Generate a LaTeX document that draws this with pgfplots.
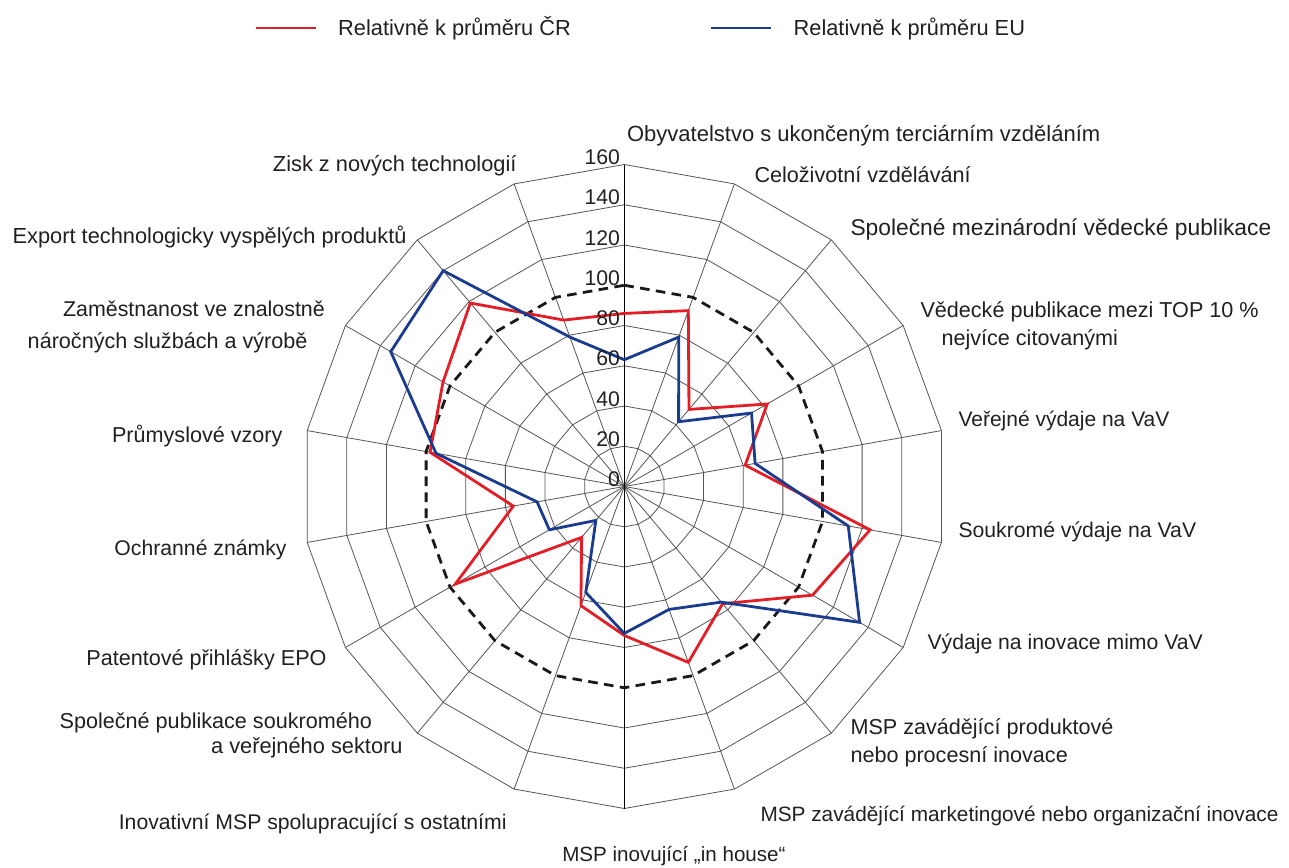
\documentclass[border=0pt]{standalone}
\usepackage{fontspec}
\setmainfont{Liberation Sans}
\usepackage{pgfplots}
\pgfplotsset{compat=1.18}
\usepackage{pgfplotstable}
\usepgfplotslibrary{polar}
\definecolor{crred}{HTML}{E41E26}
\definecolor{eublue}{HTML}{1B3C8E}
\definecolor{gridc}{HTML}{555555}
\definecolor{txt}{HTML}{231F20}

% angle (deg, counterclockwise from east), CR = relative to CZ average, EU = relative to EU average
\pgfplotstableread{
a     cr   eu
90    86   63
70    93   79
50    50   42
30    82   73
10    61   66
-10   124  113
-30   108  135
-50   76   75
-70   93   65
-90   74   73
-110  63   56
-130  33   22
-150  97   43
-170  56   44
-190  98   95
-210  104  134
-230  119  140
-250  88   79
-270  86   63
}\radardata

\newcommand{\fs}[1]{\fontsize{#1}{13}\selectfont}

\begin{document}
\begin{tikzpicture}[every node/.style={text=txt, font=\fs{10.8}, inner sep=0pt}]
\begin{polaraxis}[
  scale only axis, width=322pt, height=322pt,
  ymin=0, ymax=160,
  hide axis, clip=false,
  legend columns=2,
  legend image code/.code={\draw[#1] (0pt,0pt) -- (30pt,0pt);},
  legend style={draw=none, fill=none, inner sep=0pt,
    at={(axis description cs:0.524,1.212)}, anchor=center,
    nodes={inner sep=0pt, text=txt, font=\fs{10.9}},
    /tikz/every odd column/.append style={column sep=10.5pt},
    /tikz/every even column/.append style={column sep=69.5pt}},
]
% grid rings
\pgfplotsinvokeforeach{20,40,60,80,120,140,160}{
  \addplot[gridc, line width=0.4pt, forget plot] coordinates
    {(90,#1)(70,#1)(50,#1)(30,#1)(10,#1)(-10,#1)(-30,#1)(-50,#1)(-70,#1)(-90,#1)
     (-110,#1)(-130,#1)(-150,#1)(-170,#1)(-190,#1)(-210,#1)(-230,#1)(-250,#1)(-270,#1)};
}
% spokes
\pgfplotsinvokeforeach{70,50,30,10,-10,-30,-50,-70,-110,-130,-150,-170,-190,-210,-230,-250}{
  \addplot[gridc, line width=0.4pt, forget plot] coordinates {(#1,0)(#1,160)};
}
\addplot[black, line width=0.75pt, forget plot] coordinates {(90,160)(90,0)(-90,160)};
% 100 = average
\addplot[black!90, line width=1.4pt, dash pattern=on 4.8pt off 3.2pt, forget plot] coordinates
  {(90,100)(70,100)(50,100)(30,100)(10,100)(-10,100)(-30,100)(-50,100)(-70,100)(-90,100)
   (-110,100)(-130,100)(-150,100)(-170,100)(-190,100)(-210,100)(-230,100)(-250,100)(-270,100)};

\addplot[crred, line width=1.4pt, line join=miter] table[x=a, y=cr] {\radardata};
\addlegendentry{Relativně k průměru ČR}
\addplot[eublue, line width=1.4pt, line join=miter] table[x=a, y=eu] {\radardata};
\addlegendentry{Relativně k průměru EU}

\pgfplotsinvokeforeach{0,20,40,60,80,100,120,140,160}{
  \node[anchor=base east, xshift=-2pt, font=\fs{10.6}] at (axis cs:90,#1) {#1};
}
\coordinate (C) at (axis cs:0,0);
\end{polaraxis}

\node[anchor=base west, font=\fs{11}] at ([shift={(1.2pt,172.3pt)}]C) {Obyvatelstvo s ukončeným terciárním vzděláním};
\node[anchor=base west] at ([shift={(64.9pt,152.1pt)}]C) {Celoživotní vzdělávání};
\node[anchor=base west, font=\fs{11.4}] at ([shift={(112.9pt,125.3pt)}]C) {Společné mezinárodní vědecké publikace};
\node[anchor=base west] at ([shift={(147.9pt,84.3pt)}]C) {Vědecké publikace mezi TOP 10 \%};
\node[anchor=base west] at ([shift={(158.4pt,70.3pt)}]C) {nejvíce citovanými};
\node[anchor=base west, font=\fs{10.5}] at ([shift={(166.9pt,29.8pt)}]C) {Veřejné výdaje na VaV};
\node[anchor=base west, font=\fs{10.6}] at ([shift={(166.9pt,-25.3pt)}]C) {Soukromé výdaje na VaV};
\node[anchor=base west, font=\fs{10.6}] at ([shift={(151.4pt,-81.3pt)}]C) {Výdaje na inovace mimo VaV};
\node[anchor=base west] at ([shift={(112.9pt,-123.8pt)}]C) {MSP zavádějící produktové};
\node[anchor=base west] at ([shift={(112.9pt,-137.8pt)}]C) {nebo procesní inovace};
\node[anchor=base west, font=\fs{10.4}] at ([shift={(67.9pt,-167.3pt)}]C) {MSP zavádějící marketingové nebo organizační inovace};
\node[anchor=base west, font=\fs{10.3}] at ([shift={(-31.2pt,-187.3pt)}]C) {MSP inovující „in house“};
\node[anchor=base east, font=\fs{10.6}] at ([shift={(-58.7pt,-171.3pt)}]C) {Inovativní MSP spolupracující s ostatními};
\node[anchor=base west] at ([shift={(-282.5pt,-121pt)}]C) {Společné publikace soukromého};
\node[anchor=base west, font=\fs{10.9}] at ([shift={(-206.8pt,-133.5pt)}]C) {a veřejného sektoru};
\node[anchor=base east] at ([shift={(-148.7pt,-89.3pt)}]C) {Patentové přihlášky EPO};
\node[anchor=base east, font=\fs{10.6}] at ([shift={(-168.7pt,-34.3pt)}]C) {Ochranné známky};
\node[anchor=base east] at ([shift={(-170.7pt,21.8pt)}]C) {Průmyslové vzory};
\node[anchor=base west, font=\fs{10.7}] at ([shift={(-280.8pt,84.9pt)}]C) {Zaměstnanost ve znalostně};
\node[anchor=base east] at ([shift={(-158.2pt,68.8pt)}]C) {náročných službách a výrobě};
\node[anchor=base east, font=\fs{10.9}] at ([shift={(-108.7pt,121.3pt)}]C) {Export technologicky vyspělých produktů};
\node[anchor=base east, font=\fs{10.9}] at ([shift={(-53.7pt,157.3pt)}]C) {Zisk z nových technologií};

\path ([shift={(-312.15pt,243.25pt)}]C) rectangle ([shift={(332.35pt,-190.25pt)}]C);
\end{tikzpicture}
\end{document}
